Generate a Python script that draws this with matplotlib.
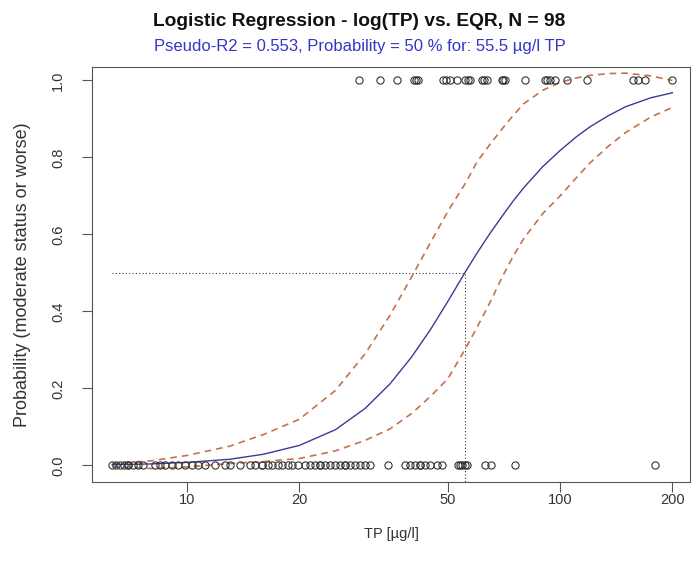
import matplotlib
matplotlib.use("Agg")
import matplotlib.pyplot as plt
from matplotlib.ticker import FixedLocator, NullLocator

plt.rcParams['font.family'] = ['Liberation Sans', 'DejaVu Sans']

# observations: TP (ug/l) with status 1 = moderate or worse
tp_bad = [28.9, 32.9, 36.6, 40.6, 41.0, 41.6, 48.6, 49.5, 50.7, 52.9, 55.6, 56.5,
          57.4, 61.8, 62.5, 63.7, 69.9, 70.5, 71.2, 80.6, 91.2, 92.5, 94.0, 97.0,
          104.4, 118, 157, 162, 169, 200]
tp_good = [6.3, 6.45, 6.61, 6.78, 6.95, 6.95, 7.17, 7.39, 7.62, 8.21, 8.46, 8.73,
           9.12, 9.46, 9.88, 10.31, 10.7, 11.17, 11.89, 12.64, 13.04, 13.87, 14.75,
           15.22, 15.89, 15.89, 16.49, 16.9, 17.54, 17.97, 18.65, 19.11, 19.84, 20.72,
           21.37, 22.04, 22.73, 22.73, 23.44, 24.17, 24.94, 25.72, 26.52, 26.52, 27.35,
           28.21, 29.09, 30.0, 30.94, 34.59, 38.41, 39.61, 40.86, 42.14, 42.14, 43.46,
           44.81, 46.8, 48.27, 53.29, 54.0, 54.63, 55.65, 56.34, 62.95, 65.31, 75.75,
           179.7]

# fitted curve and confidence band
curve_x = [6.3, 8, 10, 13, 16, 20, 25, 30, 35, 40, 45, 50, 55.5, 60, 65, 70, 75,
           80, 90, 100, 110, 120, 135, 150, 175, 200]
fit = [0.002, 0.004, 0.008, 0.016, 0.029, 0.052, 0.093, 0.148, 0.212, 0.282,
       0.354, 0.426, 0.5, 0.553, 0.604, 0.648, 0.688, 0.722, 0.777, 0.818,
       0.852, 0.879, 0.909, 0.932, 0.955, 0.968]
upper = [0.005, 0.012, 0.026, 0.05, 0.08, 0.12, 0.195, 0.29, 0.39, 0.49, 0.58,
         0.66, 0.73, 0.79, 0.835, 0.875, 0.91, 0.94, 0.975, 0.995, 1.006, 1.013,
         1.018, 1.019, 1.012, 1.0]
lower = [-0.003, -0.008, -0.004, 0.005, 0.01, 0.018, 0.038, 0.065, 0.095, 0.135,
         0.18, 0.225, 0.30, 0.36, 0.425, 0.49, 0.545, 0.59, 0.655, 0.70, 0.745,
         0.785, 0.83, 0.865, 0.905, 0.93]

tp50 = 55.5
x_ticks = [10, 20, 50, 100, 200]
y_ticks = [0.0, 0.2, 0.4, 0.6, 0.8, 1.0]

fig = plt.figure(figsize=(6.93, 5.64), dpi=100)
ax = fig.add_axes([92 / 693, 1 - 482 / 564, 598 / 693, 415 / 564])
ax.set_xscale('log')

ax.plot(curve_x, upper, color='#c8704a', lw=1.2, ls=(0, (4, 3)))
ax.plot(curve_x, lower, color='#c8704a', lw=1.2, ls=(0, (4, 3)))
ax.plot(curve_x, fit, color='#3a3a9a', lw=1.0)

ax.plot([min(tp_good), tp50], [0.5, 0.5], color='#333333', lw=0.8, ls=(0, (1, 2)))
ax.plot([tp50, tp50], [-0.05, 0.5], color='#333333', lw=0.8, ls=(0, (1, 2)))

ax.plot(tp_bad, [1] * len(tp_bad), ls='none', marker='o', ms=5.2, mfc='none',
        mec='#333333', mew=0.8)
ax.plot(tp_good, [0] * len(tp_good), ls='none', marker='o', ms=5.2, mfc='none',
        mec='#333333', mew=0.8)

ax.set_xlim(5.56, 223)
ax.set_ylim(-0.043, 1.035)
ax.xaxis.set_major_locator(FixedLocator(x_ticks))
ax.xaxis.set_minor_locator(NullLocator())
ax.set_xticklabels([str(t) for t in x_ticks])
ax.set_yticks(y_ticks)
ax.set_yticklabels(['%.1f' % t for t in y_ticks], rotation=90, va='center')
ax.tick_params(length=7, width=0.8, colors='#555555', labelcolor='#333333',
               labelsize=10.5)
ax.tick_params(axis='x', pad=1)
ax.tick_params(axis='y', pad=12.5)
for s in ax.spines.values():
    s.set_color('#555555')
    s.set_linewidth(0.8)

ax.set_xlabel('TP [µg/l]', fontsize=10.5, color='#333333', labelpad=14)
ax.set_ylabel('Probability (moderate status or worse)', fontsize=13,
              color='#333333', labelpad=14)

fig.text(359 / 693, 1 - 22 / 564, 'Logistic Regression - log(TP) vs. EQR, N = 98',
         ha='center', va='center', fontsize=13.8, fontweight='bold', color='#111111')
fig.text(360 / 693, 1 - 47 / 564,
         'Pseudo-R2 = 0.553, Probability = 50 % for: 55.5 µg/l TP',
         ha='center', va='center', fontsize=12, color='#3535c8')

fig.savefig('out.png', dpi=100)
